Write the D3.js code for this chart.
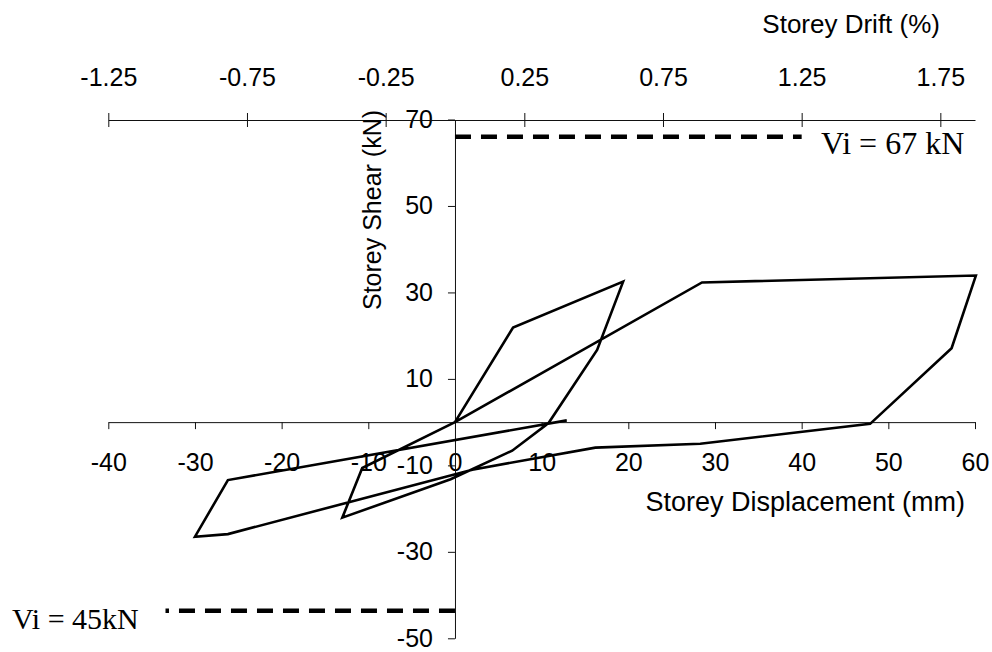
<!DOCTYPE html>
<html><head><meta charset="utf-8">
<script src="https://cdn.jsdelivr.net/npm/d3@7"></script>
<style>body{margin:0;background:#fff} svg{display:block}</style>
</head><body>
<svg id="chart" width="992" height="652"></svg>
<script>
// ---- data ----
const displacement = [0, 6.7, 19.4, 16.4, 10.8, 6.6, -0.5, -13.0, -10.7, 0, 28.5, 60.1, 57.3, 47.9, 28.3, 16.2, 2.0, -26.2, -30.0, -26.2, 12.9];
const shear        = [0, 21.9, 32.5, 16.7, -0.2, -6.6, -13.2, -22.1, -10.6, 0, 32.3, 33.9, 17.1, -0.4, -5.0, -5.9, -11.0, -25.9, -26.5, -13.4, 0.4];
const xTicks = [-40, -30, -20, -10, 0, 10, 20, 30, 40, 50, 60];
const yTicks = [70, 50, 30, 10, -10, -30, -50];
const driftTicks = [-1.25, -0.75, -0.25, 0.25, 0.75, 1.25, 1.75];
const dispDomain = [-40, 60];
const shearDomain = [-50, 70];
const driftDomain = [-1.25, 1.875];
const viUpperDisp = [0, 40];
const viUpperShear = [66, 66];
const viLowerDisp = [0, -33.4];
const viLowerShear = [-43.6, -43.6];
const viUpperLabel = "Vi = 67 kN";
const viLowerLabel = "Vi = 45kN";
const xTitle = "Storey Displacement (mm)";
const yTitle = "Storey Shear (kN)";
const topTitle = "Storey Drift (%)";

// ---- scales ----
const svg = d3.select("#chart");
const x = d3.scaleLinear().domain(dispDomain).range([108.3, 975]);
const y = d3.scaleLinear().domain(shearDomain).range([638.3, 119.5]);
const xd = d3.scaleLinear().domain(driftDomain).range([108.3, 975]);
const sans = "'Liberation Sans', Arial, sans-serif";
const serif = "'Liberation Serif', 'Times New Roman', serif";
const fmt = d => String(d);

function styleAxis(g) {
  g.select(".domain").attr("stroke", "#111").attr("stroke-width", 1);
  g.selectAll(".tick line").attr("stroke", "#111").attr("stroke-width", 1);
  g.selectAll(".tick text").attr("font-family", sans).attr("font-size", 25).attr("fill", "#000");
}

// bottom (displacement) axis, crossing at shear = 0
const gx = svg.append("g").attr("transform", `translate(0,${y(0)})`)
  .call(d3.axisBottom(x).tickValues(xTicks).tickFormat(fmt).tickSize(7).tickSizeOuter(0).tickPadding(24));
styleAxis(gx);
gx.attr("font-family", null);

// left (shear) axis, crossing at displacement = 0
const gy = svg.append("g").attr("transform", `translate(${x(0)},0)`)
  .call(d3.axisLeft(y).tickValues(yTicks).tickFormat(fmt).tickSize(7).tickSizeOuter(0).tickPadding(15));
styleAxis(gy);

// top (drift) axis
const gt = svg.append("g").attr("transform", `translate(0,${y(70) + 0.5})`)
  .call(d3.axisTop(xd).tickValues(driftTicks).tickFormat(fmt).tickSize(7).tickSizeOuter(0).tickPadding(27));
styleAxis(gt);
gt.selectAll(".tick line").attr("y1", 7).attr("y2", -7);

// ---- hysteresis curve ----
const pts = displacement.map((d, i) => [d, shear[i]]);
const line = d3.line().x(d => x(d[0])).y(d => y(d[1]));
svg.append("path").datum(pts).attr("d", line)
  .attr("fill", "none").attr("stroke", "#000").attr("stroke-width", 2.6)
  .attr("stroke-linejoin", "miter");

// ---- Vi dashed lines ----
const upper = viUpperDisp.map((d, i) => [d, viUpperShear[i]]);
const lower = viLowerDisp.map((d, i) => [d, viLowerShear[i]]);
[upper, lower].forEach(p => {
  svg.append("path").datum(p).attr("d", line)
    .attr("fill", "none").attr("stroke", "#000").attr("stroke-width", 4.5)
    .attr("stroke-dasharray", "16,10");
});

svg.append("text").attr("x", 821).attr("y", 154)
  .attr("font-family", serif).attr("font-size", 32).attr("fill", "#000").text(viUpperLabel);
svg.append("text").attr("x", 12).attr("y", 629)
  .attr("font-family", serif).attr("font-size", 30).attr("fill", "#000").text(viLowerLabel);

// ---- titles ----
svg.append("text").attr("x", 965).attr("y", 511).attr("text-anchor", "end")
  .attr("font-family", sans).attr("font-size", 27).attr("fill", "#000").text(xTitle);
svg.append("text").attr("x", 940).attr("y", 33).attr("text-anchor", "end")
  .attr("font-family", sans).attr("font-size", 26).attr("fill", "#000").text(topTitle);
svg.append("text").attr("transform", "translate(381,210) rotate(-90)").attr("text-anchor", "middle")
  .attr("font-family", sans).attr("font-size", 25).attr("fill", "#000").text(yTitle);
</script>
</body></html>
